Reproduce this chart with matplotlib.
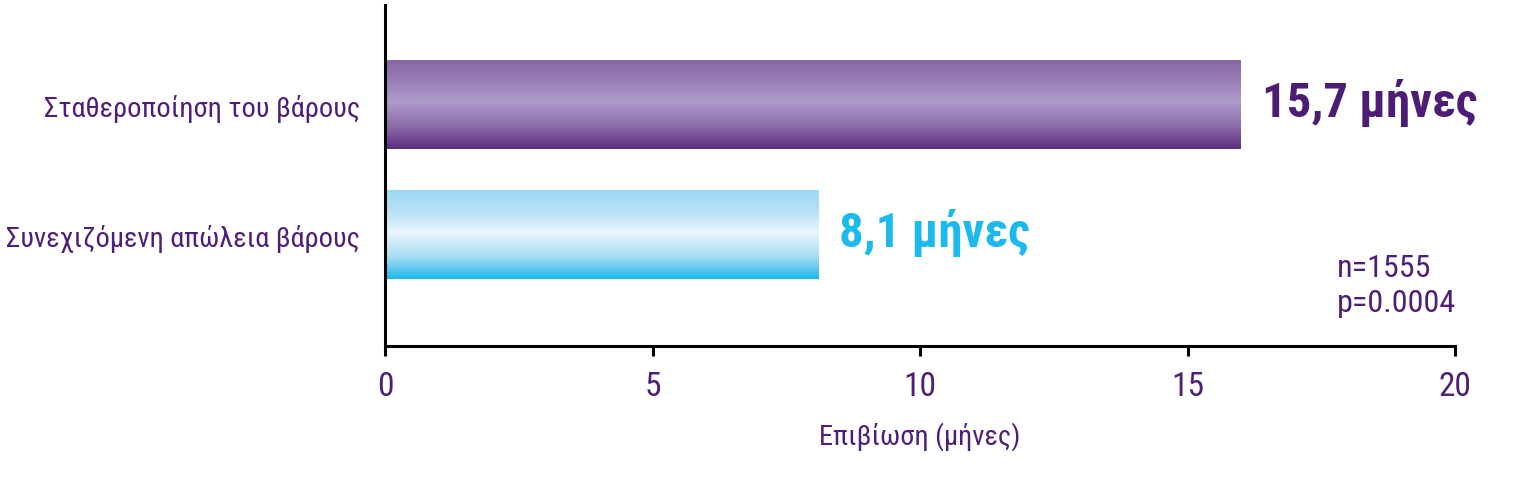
import matplotlib.pyplot as plt
import numpy as np
from matplotlib.colors import LinearSegmentedColormap

# data
categories = ['Συνεχιζόμενη απώλεια βάρους', 'Σταθεροποίηση του βάρους']
bar_values = [8.1, 16.0]
value_labels = ['8,1 μήνες', '15,7 μήνες']
x_ticks = [0, 5, 10, 15, 20]
stats_text = 'n=1555\np=0.0004'

TXT = '#4f1f78'
plt.rcParams['font.family'] = ['Roboto Condensed', 'DejaVu Sans']

gradients = [
    ['#1bb9ec', '#a8dcf4', '#eaf6fd', '#b9e2f6', '#9dd8f4'],   # bottom -> top
    ['#5d2b80', '#8a6aa8', '#ae9cca', '#9a80b8', '#8767a5'],
]
label_colors = ['#1cb9ed', '#4d1c75']

fig = plt.figure(figsize=(15.36, 4.89), dpi=100)
ax = fig.add_axes([0.2507, 0.2904, 0.6966, 0.6973])

y = np.arange(len(categories))
bars = ax.barh(y, bar_values, height=0.677, color='none', edgecolor='none')

# gradient fill for each bar
for bar, cols in zip(bars, gradients):
    x0, y0 = bar.get_x(), bar.get_y()
    w, h = bar.get_width(), bar.get_height()
    cmap = LinearSegmentedColormap.from_list('g', [(0, cols[0]), (0.25, cols[1]), (0.53, cols[2]),
                                                   (0.75, cols[3]), (1, cols[4])])
    grad = np.linspace(0, 1, 256).reshape(-1, 1)
    ax.imshow(grad, extent=[x0, x0 + w, y0, y0 + h], origin='lower', aspect='auto',
              cmap=cmap, interpolation='bicubic', zorder=2)

for bar, lab, c in zip(bars, value_labels, label_colors):
    ax.annotate(lab, (bar.get_width(), bar.get_y() + bar.get_height() / 2),
                xytext=(15, 2), textcoords='offset points', ha='left', va='center',
                fontsize=35, fontweight='bold', color=c)

ax.set_xlim(0, 20)
ax.set_ylim(-0.854, 1.769)
ax.set_xticks(x_ticks)
ax.set_xticklabels([str(t) for t in x_ticks], fontsize=24, color=TXT)
ax.set_yticks(y)
ax.set_yticklabels(categories, fontsize=20.5, color=TXT)
ax.tick_params(axis='y', length=0, pad=18)
ax.tick_params(axis='x', length=7, width=2.2, pad=10)
ax.set_xlabel('Επιβίωση (μήνες)', fontsize=20.5, color=TXT, labelpad=14)

for side in ['top', 'right']:
    ax.spines[side].set_visible(False)
for side in ['left', 'bottom']:
    ax.spines[side].set_linewidth(2.2)

ax.text(17.8, -0.14, stats_text, fontsize=23, color=TXT, ha='left', va='top', linespacing=1.25)

fig.savefig('out.png', dpi=100)
